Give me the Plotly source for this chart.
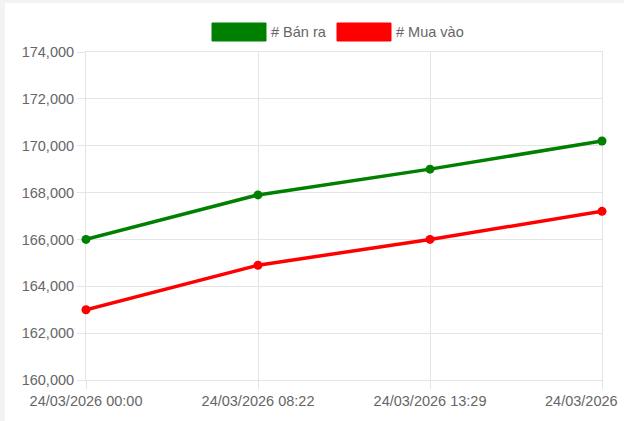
import plotly.graph_objects as go

categories = ["24/03/2026 00:00", "24/03/2026 08:22", "24/03/2026 13:29", "24/03/2026"]
ban_ra = [166000, 167900, 169000, 170200]
mua_vao = [163000, 164900, 166000, 167200]
series_names = ["# Bán ra", "# Mua vào"]
series_colors = ["#008000", "#ff0000"]
y_ticks = list(range(160000, 174001, 2000))

W, H = 624, 421
L, R, T, B = 86, 22, 52, 41
PW, PH = W - L - R, H - T - B
FS = 14.5
FONT = "Liberation Sans, Arial, sans-serif"

def px(x):
    return (x - L) / PW

def py(y):
    return (H - B - y) / PH

fig = go.Figure()
for vals, name, col in zip([ban_ra, mua_vao], series_names, series_colors):
    fig.add_trace(go.Scatter(
        x=list(range(len(categories))), y=vals, name=name, mode="lines+markers",
        line=dict(color=col, width=3.5), marker=dict(color=col, size=9),
        showlegend=False, cliponaxis=False))

shapes = [dict(type="rect", xref="paper", yref="paper", x0=px(5), x1=px(700),
               y0=py(500), y1=py(3), fillcolor="white", line=dict(width=0), layer="below")]
annotations = []
legend_boxes = [(212, 266), (337, 391)]
for (x0, x1), name, col in zip(legend_boxes, series_names, series_colors):
    shapes.append(dict(type="rect", xref="paper", yref="paper", x0=px(x0), x1=px(x1),
                       y0=py(41), y1=py(23), fillcolor=col, line=dict(width=1, color=col)))
    annotations.append(dict(xref="paper", yref="paper", x=px(x1 + 3), y=py(32),
                            text=name, showarrow=False, xanchor="left", yanchor="middle",
                            font=dict(size=FS, color="#666666", family=FONT)))

# the last label is cut by the chart's right edge in the original: show its
# visible part right-aligned near the edge instead of centred on the tick
ticktext = list(categories)
ticktext[-1] = ""
annotations.append(dict(xref="x", yref="paper", x=len(categories) - 1, y=py(401),
                        text=categories[-1], showarrow=False, xanchor="right",
                        yanchor="middle", xshift=16, borderpad=0, borderwidth=0,
                        font=dict(size=FS, color="#666666", family=FONT)))

grid = "#e5e5e5"
fig.update_layout(
    width=W, height=H, margin=dict(l=L, r=R, t=T, b=B, pad=0),
    paper_bgcolor="#f3f3f3", plot_bgcolor="white",
    font=dict(family=FONT, size=FS, color="#666666"),
    shapes=shapes, annotations=annotations,
    xaxis=dict(range=[0, len(categories) - 1], tickmode="array",
               tickvals=list(range(len(categories))), ticktext=ticktext,
               showgrid=True, gridcolor=grid, gridwidth=1,
               showline=True, linecolor=grid, mirror=True,
               ticks="outside", ticklen=8, tickcolor=grid, automargin=False,
               ticklabeloverflow="allow", zeroline=False, layer="below traces"),
    yaxis=dict(range=[160000, 174000], tickmode="array", tickvals=y_ticks,
               ticktext=[f"{v:,}" for v in y_ticks],
               showgrid=True, gridcolor=grid, gridwidth=1,
               showline=True, linecolor=grid, mirror=True,
               ticks="outside", ticklen=8, tickcolor=grid, automargin=False,
               zeroline=False, layer="below traces"),
)
fig.write_html("out.html", config={"displayModeBar": False},
               post_script="document.body.style.margin='0';document.body.style.overflow='hidden';")
